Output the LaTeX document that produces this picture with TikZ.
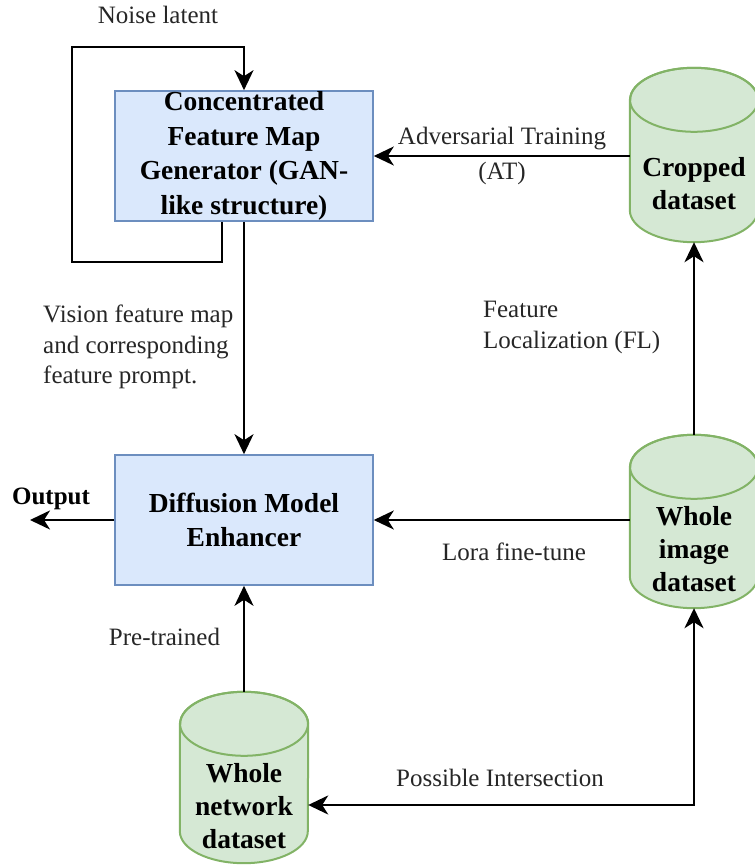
\documentclass[tikz,border=0pt]{standalone}
\usepackage{fontspec}
\setmainfont{Liberation Serif}
\usetikzlibrary{arrows.meta,calc}

\definecolor{boxfill}{HTML}{DAE8FC}
\definecolor{boxline}{HTML}{6C8EBF}
\definecolor{dbfill}{HTML}{D5E8D4}
\definecolor{dbline}{HTML}{82B366}

% cylinder body drawn around a named placeholder node: #1 name, #2 x radius, #3 y radius
\newcommand\drawdb[3]{%
  \path[fill=dbfill,draw=dbline,line width=2pt]
    ($(#1.north west)+(0,-#3)$) -- ($(#1.south west)+(0,#3)$)
    arc[start angle=180,end angle=360,x radius=#2,y radius=#3]
    -- ($(#1.north east)+(0,-#3)$)
    arc[start angle=0,end angle=180,x radius=#2,y radius=#3] -- cycle;
  \draw[dbline,line width=2pt] ($(#1.north)+(0,-#3)$) ellipse[x radius=#2,y radius=#3];
}

\begin{document}
\begin{tikzpicture}[x=1pt,y=1pt,
  proc/.style={draw=boxline,fill=boxfill,line width=1.6pt,minimum width=258pt,minimum height=130pt,
    align=center,font=\fontsize{27.5}{34.5}\selectfont\bfseries,inner sep=0pt},
  dbnode/.style={minimum width=128pt,inner sep=0pt},
  dbtext/.style={align=center,font=\fontsize{27.5}{33}\selectfont\bfseries,inner sep=0pt},
  lbl/.style={font=\fontsize{25}{30.5}\selectfont,inner sep=0pt,text=black!85},
  arr/.style={line width=2.4pt,-{Stealth[length=20pt 0,width=19pt 0,inset=6pt 0]}},
  biarr/.style={line width=2.4pt,{Stealth[length=20pt 0,width=19pt 0,inset=6pt 0]}-{Stealth[length=20pt 0,width=19pt 0,inset=6pt 0]}}]
\useasboundingbox (0,0) rectangle (755,865);

% processing blocks
\node[proc] (g) at (244,709) {Concentrated\\Feature Map\\Generator (GAN-\\like structure)};
\node[proc] (d) at (244,345) {Diffusion Model\\Enhancer};

% datasets
\node[dbnode,minimum height=174pt] (crop) at (694,710) {};
\node[dbnode,minimum height=173pt] (img) at (694,343.5) {};
\node[dbnode,minimum height=171pt] (net) at (244,87.5) {};
\drawdb{crop}{64}{32}
\drawdb{img}{64}{32}
\drawdb{net}{64}{32}
\node[dbtext] (cropT) at (694,681.5) {Cropped\\dataset};
\node[dbtext] (imgT) at (694,316) {Whole\\image\\dataset};
\node[dbtext] (netT) at (244,59) {Whole\\network\\dataset};

% bend points of the free-standing connectors
\coordinate (n1) at (222,603);
\coordinate (n2) at (72,818);
\coordinate (out) at (30,345);
\coordinate (pi) at (400,60);

% connectors
\draw[arr] (g.south -| n1) -- (n1) -| (n2) -| (g.north);
\draw[arr] (g.south) -- (d.north);
\draw[arr] (crop.west |- g.east) -- (g.east);
\draw[arr] (img.north) -- (crop.south);
\draw[arr] (img.west |- d.east) -- (d.east);
\draw[arr] (net.north) -- (d.south);
\draw[arr] (d.west) -- (out);
\draw[biarr] (net.east |- pi) -| (img.south);

% labels
\node[lbl] (lnoise) at (158,850) {Noise latent};
\node[lbl] (ladv) at (502,726) {Adversarial Training};
\node[lbl] (lat) at (502,692) {(AT)};
\node[lbl,align=left,anchor=west] (lfl) at (483,537.5) {Feature\\Localization (FL)};
\node[lbl,align=left,anchor=west] (lvis) at (43,518) {Vision feature map\\and corresponding\\feature prompt.};
\node[lbl,font=\fontsize{25}{30}\selectfont\bfseries,text=black] (lout) at (51,366) {Output};
\node[lbl] (lpre) at (164.5,228) {Pre-trained};
\node[lbl] (llora) at (514,313) {Lora fine-tune};
\node[lbl] (lpi) at (500,87) {Possible Intersection};
\end{tikzpicture}
\end{document}
